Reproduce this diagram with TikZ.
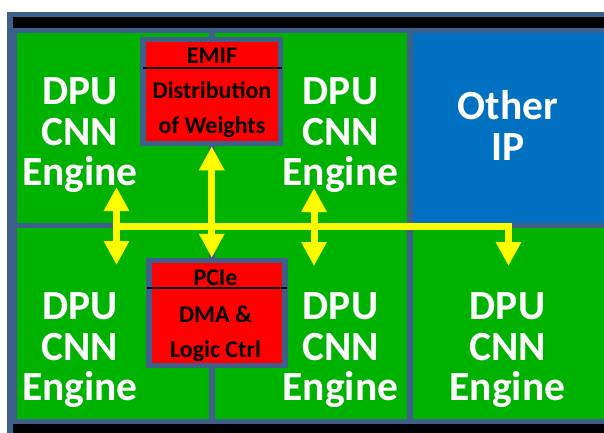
\documentclass[tikz,border=0pt]{standalone}
\usepackage{fontspec}
\setmainfont{Carlito}
\usetikzlibrary{arrows.meta}
\definecolor{framec}{HTML}{3E5F8A}
\definecolor{cellgreen}{HTML}{00B200}
\definecolor{ipblue}{HTML}{0070C0}
\definecolor{busyellow}{HTML}{FFFF00}
\definecolor{blockred}{HTML}{FF0000}
\tikzset{
  cell/.style={draw=framec, line width=5.5pt, fill=cellgreen},
  block/.style={draw=framec, line width=5.5pt, fill=blockred, rectangle, inner sep=0pt},
  dpulabel/.style={text=white, font=\fontsize{41.5}{40.5}\selectfont\bfseries,
    align=center, inner sep=0pt, anchor=north},
  blocktext/.style={text=black, font=\fontsize{24}{34.5}\selectfont\bfseries,
    align=center, inner sep=0pt},
  busline/.style={draw=busyellow, line width=7pt, line join=miter},
  busboth/.style={busline, arrows={Triangle[width=24pt,length=24pt]-Triangle[width=24pt,length=24pt]}},
  busone/.style={busline, arrows={-Triangle[width=24pt,length=24pt]}},
}
\begin{document}
\begin{tikzpicture}[x=1pt,y=-1pt]
\useasboundingbox (0,0) rectangle (604,432);
\clip (0,0) rectangle (604,432);
\fill[white] (0,0) rectangle (604,432);

% chip outline and dark backplane
\fill[framec] (7,12) rectangle (620,440);
\fill[black] (12.5,17) rectangle (620,440);

% floorplan regions
\draw[cell] (14.5,30.5) rectangle (212,225.5);
\draw[cell] (212,30.5) rectangle (410,225.5);
\draw[cell, fill=ipblue] (410,30.5) rectangle (620,225.5);
\draw[cell] (14.5,225.5) rectangle (212,421.5);
\draw[cell] (212,225.5) rectangle (410,421.5);
\draw[cell] (410,225.5) rectangle (620,421.5);

% region labels
\node[dpulabel] (eng1) at (80,77.5) {DPU\\CNN\\Engine};
\node[dpulabel] (eng2) at (340.5,77.5) {DPU\\CNN\\Engine};
\node[dpulabel] (other) at (508,90.5) {Other\\IP};
\node[dpulabel] (eng3) at (80,292.5) {DPU\\CNN\\Engine};
\node[dpulabel] (eng4) at (340.5,292.5) {DPU\\CNN\\Engine};
\node[dpulabel] (eng5) at (507.5,292.5) {DPU\\CNN\\Engine};

% EMIF block
\node[block, minimum width=137.5pt, minimum height=104pt] (emif) at (211.75,91.5) {};
\draw[line width=2.5pt] (142.5,68) -- (281.5,68);
\node[blocktext, anchor=base] (emiftitle) at (212,63.3) {EMIF};
\node[blocktext, anchor=north] (emifbody) at (212,81.5) {Distribution\\of Weights};

% PCIe block
\node[block, minimum width=136pt, minimum height=105pt] (pcie) at (217,313) {};
\draw[line width=2.5pt] (147,288) -- (287,288);
\node[blocktext, anchor=base] (pcietitle) at (215.5,285.3) {PCIe};
\node[blocktext, anchor=north] (pciebody) at (215.5,306.2) {DMA \&\\Logic Ctrl};

% interconnect
\coordinate (a1t) at (116.5,187);
\coordinate (a1b) at (116.5,265);
\coordinate (a3t) at (314,188);
\coordinate (a3b) at (314,266);
\coordinate (busl) at (116.5,226);
\coordinate (busc) at (508.5,226);
\coordinate (bust) at (508.5,266);

\draw[busone] (busl) -- (busc) -- (bust);
\draw[busboth] (a1t) -- (a1b);
\draw[busboth] (a3t) -- (a3b);
\draw[busboth] (emif.south) -- (emif.south |- pcie.north);
\end{tikzpicture}
\end{document}
